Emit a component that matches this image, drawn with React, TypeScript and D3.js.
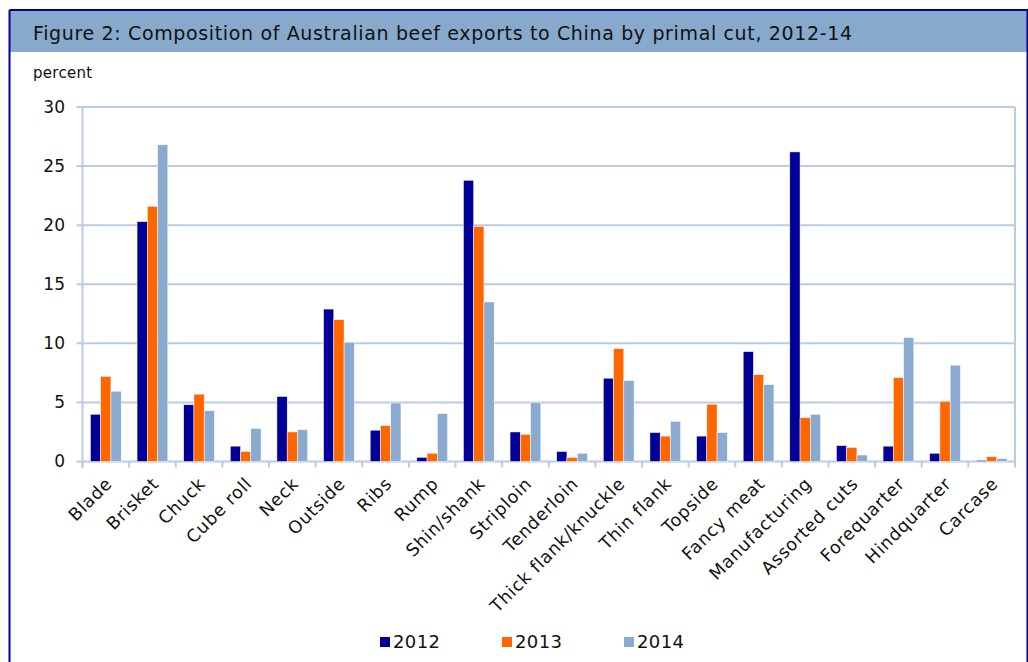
import React from "react";
import * as d3 from "d3";

const categories = ["Blade","Brisket","Chuck","Cube roll","Neck","Outside","Ribs","Rump","Shin/shank","Striploin","Tenderloin","Thick flank/knuckle","Thin flank","Topside","Fancy meat","Manufacturing","Assorted cuts","Forequarter","Hindquarter","Carcase"];
const series = ["2012","2013","2014"];
const v2012 = [4.0,20.3,4.8,1.3,5.5,12.9,2.65,0.35,23.8,2.5,0.85,7.05,2.45,2.15,9.3,26.2,1.35,1.3,0.7,0.1];
const v2013 = [7.2,21.6,5.7,0.85,2.5,12.0,3.05,0.7,19.9,2.3,0.35,9.55,2.15,4.85,7.35,3.7,1.2,7.1,5.1,0.4];
const v2014 = [5.95,26.8,4.3,2.8,2.7,10.1,4.95,4.05,13.5,5.0,0.7,6.85,3.4,2.45,6.5,4.0,0.55,10.5,8.15,0.25];
const yTicks = [0,5,10,15,20,25,30];
const colors = ["#000099","#FF6600","#8AABCF"];

const FONT = "'DejaVu Sans', Verdana, sans-serif";

export default function App() {
  const W = 1028, H = 662;
  const x0 = 82.5, x1 = 1015, yTop = 107, yBot = 461.5;
  const x = d3.scaleBand<string>().domain(categories).range([x0, x1]).paddingInner(0.34).paddingOuter(0.17);
  const xs = d3.scaleBand<string>().domain(series).range([0, x.bandwidth()]);
  const xb = d3.scaleBand<string>().domain(categories).range([x0, x1]);
  const y = d3.scaleLinear().domain([0, 30]).range([yBot, yTop]);
  const data = [v2012, v2013, v2014];
  const legendX = [380, 502, 624];
  return (
    <svg width={W} height={H} style={{ position: "absolute", left: 0, top: 0 }} fontFamily={FONT}>
      <rect x={0} y={0} width={W} height={H} fill="#fff" />
      <rect x={10} y={11} width={W - 10} height={41} fill="#87A9CC" />
      <line x1={9.5} y1={10} x2={W} y2={10} stroke="#0000A0" strokeWidth={2} />
      <line x1={9.5} y1={10} x2={9.5} y2={H} stroke="#0000A0" strokeWidth={2} />
      <line x1={W - 0.5} y1={10} x2={W - 0.5} y2={H} stroke="#0000A0" strokeWidth={2} />
      <text x={33} y={40} fontSize={19} fill="#111" textLength={819} lengthAdjust="spacing">Figure 2: Composition of Australian beef exports to China by primal cut, 2012-14</text>
      <text x={33} y={78} fontSize={15} fill="#111" letterSpacing={0.3}>percent</text>
      {yTicks.map(t => (
        <g key={t}>
          <line x1={x0 - 6} x2={x1} y1={y(t)} y2={y(t)} stroke="#BACCE1" strokeWidth={2} />
          <text x={65} y={y(t)} dy="0.35em" textAnchor="end" fontSize={17} fill="#111">{t}</text>
        </g>
      ))}
      <line x1={x0} x2={x0} y1={yTop} y2={yBot + 6} stroke="#BACCE1" strokeWidth={2} />
      <line x1={x1} x2={x1} y1={yTop} y2={yBot + 6} stroke="#BACCE1" strokeWidth={2} />
      {categories.map(c => (
        <line key={c} x1={xb(c)!} x2={xb(c)!} y1={yBot} y2={yBot + 6} stroke="#BACCE1" strokeWidth={2} />
      ))}
      {data.map((vals, si) => vals.map((v, i) => (
        <rect key={si + "-" + i} x={x(categories[i])! + xs(series[si])!} y={y(v)} width={xs.bandwidth()} height={yBot - y(v)} fill={colors[si]} stroke="#fff" strokeWidth={0.5} />
      )))}
      {categories.map(c => {
        const cx = xb(c)! + xb.bandwidth() / 2 + 3;
        return (
          <text key={c} transform={`translate(${cx},${yBot + 19}) rotate(-45)`} textAnchor="end" fontSize={17.5} letterSpacing={0.7} fill="#111" dy="0.35em">{c}</text>
        );
      })}
      {series.map((s, i) => (
        <g key={s}>
          <rect x={legendX[i]} y={637} width={10} height={10} fill={colors[i]} />
          <text x={legendX[i] + 13} y={642} dy="0.35em" fontSize={18} letterSpacing={0.4} fill="#111">{s}</text>
        </g>
      ))}
    </svg>
  );
}
